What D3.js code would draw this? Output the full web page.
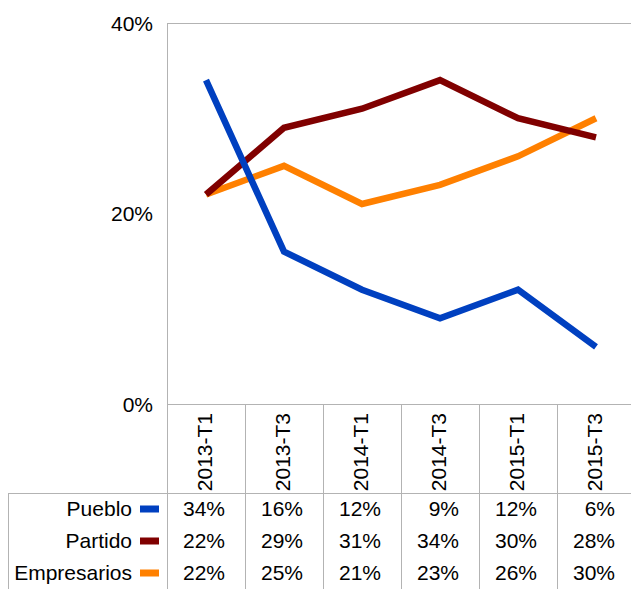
<!DOCTYPE html>
<html>
<head>
<meta charset="utf-8">
<script src="https://cdn.jsdelivr.net/npm/d3@7"></script>
<style>
  body { margin: 0; background: #fff; }
  text { font-family: "Liberation Sans", Arial, sans-serif; font-size: 21px; fill: #000; }
</style>
</head>
<body>
<svg id="chart" width="631" height="589"></svg>
<script>
// data
const categories = ['2013-T1', '2013-T3', '2014-T1', '2014-T3', '2015-T1', '2015-T3'];
const pueblo = [34, 16, 12, 9, 12, 6];
const partido = [22, 29, 31, 34, 30, 28];
const empresarios = [22, 25, 21, 23, 26, 30];
const yTicks = [0, 20, 40];

const series = [
    { name: 'Pueblo', values: pueblo, color: '#0040c0' },
    { name: 'Partido', values: partido, color: '#800000' },
    { name: 'Empresarios', values: empresarios, color: '#ff8000' }
];

const svg = d3.select('#chart');
const gray = '#b3b3b3';

const plot = { left: 167, right: 635, top: 23, bottom: 404 };
const tableTop = 493;
const rowH = 32;
const tableLeft = 8;

const x = d3.scaleBand()
    .domain(categories)
    .range([plot.left, plot.right]);

const y = d3.scaleLinear()
    .domain([0, 40])
    .range([plot.bottom, plot.top]);

// frame and grid of the table
const lines = svg.append('g')
    .attr('stroke', gray)
    .attr('stroke-width', 1)
    .attr('shape-rendering', 'crispEdges');

lines.append('line')
    .attr('x1', plot.left).attr('x2', 631)
    .attr('y1', plot.top + 0.5).attr('y2', plot.top + 0.5);
lines.append('line')
    .attr('x1', plot.left).attr('x2', 631)
    .attr('y1', plot.bottom + 0.5).attr('y2', plot.bottom + 0.5);
lines.append('line')
    .attr('x1', tableLeft).attr('x2', 631)
    .attr('y1', tableTop + 0.5).attr('y2', tableTop + 0.5);
lines.append('line')
    .attr('x1', plot.left + 0.5).attr('x2', plot.left + 0.5)
    .attr('y1', plot.top).attr('y2', 589);
lines.append('line')
    .attr('x1', tableLeft + 0.5).attr('x2', tableLeft + 0.5)
    .attr('y1', tableTop).attr('y2', 589);

lines.selectAll('.sep')
    .data(categories.slice(1))
    .enter().append('line')
    .attr('class', 'sep')
    .attr('x1', d => Math.round(x(d)) + 0.5)
    .attr('x2', d => Math.round(x(d)) + 0.5)
    .attr('y1', plot.bottom)
    .attr('y2', 589);

// y axis labels
const yAxis = svg.append('g')
    .attr('transform', `translate(${plot.left},0)`)
    .call(d3.axisLeft(y).tickValues(yTicks).tickSize(0).tickPadding(14).tickFormat(d => d + '%'));
yAxis.select('.domain').remove();
yAxis.selectAll('text')
    .attr('font-size', null)
    .attr('font-family', null)
    .attr('dy', '0.35em');
yAxis.attr('font-size', null).attr('font-family', null);

// category labels (rotated)
svg.append('g').selectAll('text')
    .data(categories)
    .enter().append('text')
    .attr('transform', d => `translate(${x(d) + x.bandwidth() / 2},413) rotate(-90)`)
    .attr('text-anchor', 'end')
    .attr('dy', '0.3em')
    .text(d => d);

// lines, orange at the back and blue on top
const line = d3.line()
    .x((d, i) => x(categories[i]) + x.bandwidth() / 2)
    .y(d => y(d));

svg.append('g').selectAll('path')
    .data(series.slice().reverse())
    .enter().append('path')
    .attr('fill', 'none')
    .attr('stroke', d => d.color)
    .attr('stroke-width', 6.5)
    .attr('d', d => line(d.values));

// data table
const rows = svg.append('g').selectAll('g')
    .data(series)
    .enter().append('g')
    .attr('transform', (d, i) => `translate(0,${tableTop + rowH * i + rowH / 2})`);

rows.append('text')
    .attr('x', 132)
    .attr('text-anchor', 'end')
    .attr('dy', '0.35em')
    .text(d => d.name);

rows.append('rect')
    .attr('x', 140)
    .attr('y', -3.5)
    .attr('width', 19)
    .attr('height', 7)
    .attr('fill', d => d.color);

rows.selectAll('.val')
    .data(d => d.values)
    .enter().append('text')
    .attr('class', 'val')
    .attr('x', (d, i) => x(categories[i]) + x.bandwidth() - 20)
    .attr('text-anchor', 'end')
    .attr('dy', '0.35em')
    .text(d => d + '%');
</script>
</body>
</html>
